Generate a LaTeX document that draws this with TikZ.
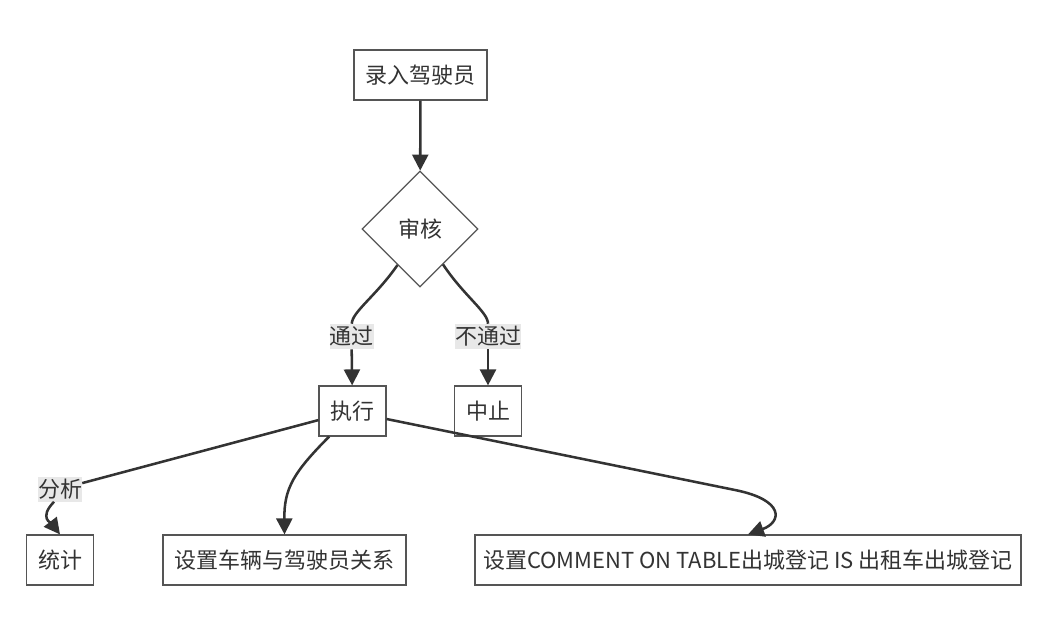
\documentclass[tikz,border=0pt]{standalone}
\usepackage{fontspec}
\setmainfont{Noto Sans CJK SC}
\usetikzlibrary{arrows.meta,positioning,shapes.geometric}
\definecolor{ink}{HTML}{333333}
\definecolor{edgeline}{HTML}{555555}
\definecolor{lblbg}{HTML}{E8E8E8}
\tikzset{
  procbox/.style={draw=edgeline, line width=0.9pt, fill=white, text=ink,
    minimum height=37.5pt, inner xsep=8.6pt, inner ysep=0pt,
    font=\fontsize{16.5}{19}\selectfont},
  decbox/.style={procbox, diamond, inner sep=0pt, minimum width=87pt,
    minimum height=87pt},
  edgelbl/.style={fill=lblbg, text=ink, inner sep=0pt, minimum height=18.75pt,
    font=\fontsize{16.5}{19}\selectfont},
  link/.style={line width=1.9pt, draw=ink},
  arr/.style={link, -{Triangle[length=12pt,width=12pt]}}
}
\begin{document}
\begin{tikzpicture}[x=0.75pt,y=-0.75pt]
        \useasboundingbox (0,0) rectangle (1046,640);
        \node[procbox] (luru) at (420.5,75) {录入驾驶员};
        \node[decbox] (shenhe) at (420,229) {审核};
        \node[procbox] (zhixing) at (352.5,411) {执行};
        \node[procbox] (zhongzhi) at (488,411) {中止};
        \node[procbox] (tongji) at (60,560) {统计};
        \node[procbox] (guanxi) at (284.5,560) {设置车辆与驾驶员关系};
        \node[procbox, inner xsep=6pt] (biaozhu) at (748,560)
          {设置COMMENT ON TABLE出城登记 IS 出租车出城登记};
        % edge labels
        \node[edgelbl] (tongguo) at (351.5,336.5) {通过};
        \node[edgelbl] (butongguo) at (488,336.5) {不通过};
        \node[edgelbl] (fenxi) at (60,489) {分析};
        % connectors
        \draw[arr] (luru) -- (shenhe);
        \draw[link] (shenhe.238) .. controls (376,296) and (352,312) .. (tongguo);
        \draw[arr] (tongguo) -- (zhixing);
        \draw[link] (shenhe.-57) .. controls (464,296) and (488,312) .. (butongguo);
        \draw[arr] (butongguo) -- (zhongzhi);
        \draw[link] (zhixing) -- (fenxi);
        \draw[arr] (fenxi.-115) .. controls (38,518) and (52,524) .. (tongji.north);
        \draw[arr] ([xshift=8pt]zhixing.south west) .. controls (294,472) and (284,488) .. (guanxi.north);
        \draw[arr] ([yshift=-6pt]zhixing.east) -- (735,490)
          .. controls (785,500) and (782,522) .. (biaozhu.north);
      \end{tikzpicture}
\end{document}
